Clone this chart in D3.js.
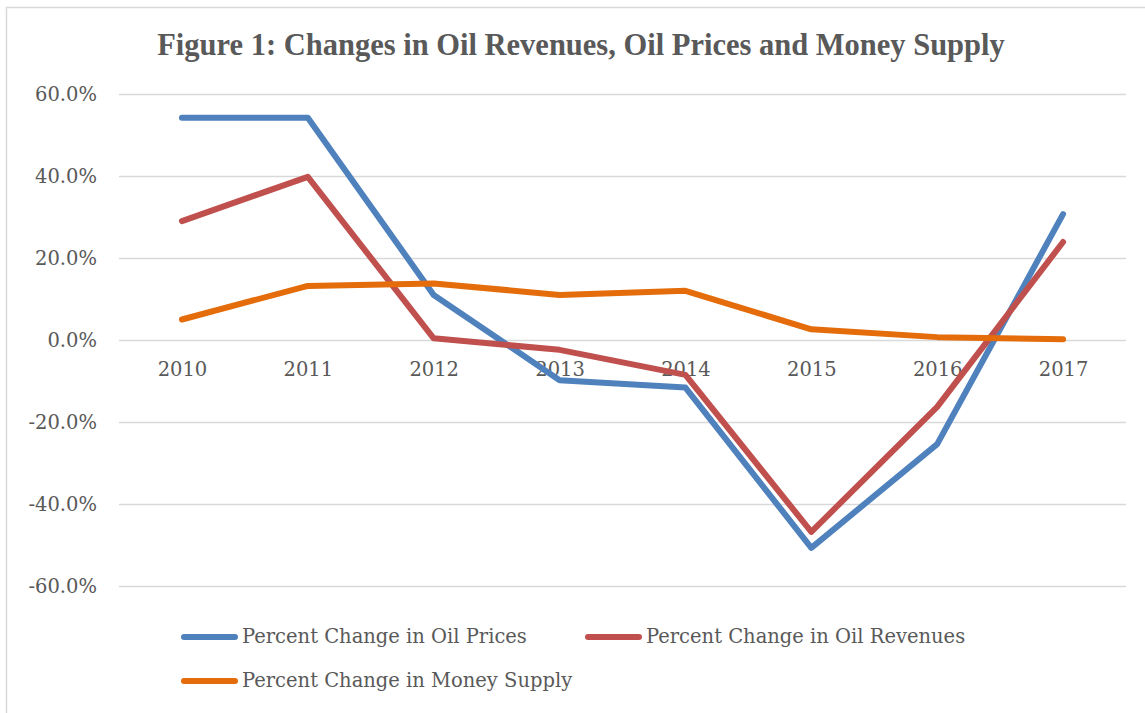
<!DOCTYPE html>
<html>
<head>
<meta charset="utf-8">
<script src="https://cdn.jsdelivr.net/npm/d3@7"></script>
<style>
	body { margin: 0; background: #fff; }
	text { font-family: "DejaVu Serif", "Liberation Serif", serif; fill: #595959; }
</style>
</head>
<body>
<div id="chart"></div>
<script>
// Chart data
const years = ["2010", "2011", "2012", "2013", "2014", "2015", "2016", "2017"];
const oilPrices = [54.2, 54.2, 11.0, -9.8, -11.6, -50.7, -25.4, 30.7];
const oilRevenues = [29.0, 39.8, 0.4, -2.4, -8.5, -46.8, -16.3, 23.9];
const moneySupply = [5.0, 13.2, 13.8, 11.0, 12.0, 2.6, 0.7, 0.2];
const yTicks = [60, 40, 20, 0, -20, -40, -60];
const seriesNames = [
	"Percent Change in Oil Prices",
	"Percent Change in Oil Revenues",
	"Percent Change in Money Supply",
];
const seriesColors = ["#4F81BD", "#C0504D", "#E46C0A"];

const width = 1145;
const height = 713;
const margin = { top: 94, left: 119, right: 19, bottom: 127 };
const labelSize = "19.5px";

const svg = d3
	.select("#chart")
	.append("svg")
	.attr("width", width)
	.attr("height", height);

// outer chart border
svg.append("rect")
	.attr("x", 6.5)
	.attr("y", 7.5)
	.attr("width", width + 10)
	.attr("height", height + 10)
	.attr("fill", "none")
	.attr("stroke", "#D9D9D9")
	.attr("stroke-width", 1.5);

// title, sized so it spans the same width as the reference
const title = svg.append("text")
	.text("Figure 1: Changes in Oil Revenues, Oil Prices and Money Supply")
	.attr("x", 581)
	.attr("y", 55)
	.attr("text-anchor", "middle")
	.style("font-family", "'Liberation Serif', serif")
	.style("font-weight", "bold")
	.style("font-size", "30px");
const tw = title.node().getComputedTextLength();
title.style("font-size", `${(30 * 848) / tw}px`);

const x = d3
	.scalePoint()
	.domain(years)
	.range([margin.left, width - margin.right])
	.padding(0.5);

const y = d3
	.scaleLinear()
	.domain([-60, 60])
	.range([height - margin.bottom, margin.top]);

// gridlines
svg.append("g")
	.selectAll("line")
	.data(yTicks)
	.join("line")
	.attr("x1", margin.left)
	.attr("x2", width - margin.right)
	.attr("y1", (d) => Math.round(y(d)) + 0.5)
	.attr("y2", (d) => Math.round(y(d)) + 0.5)
	.attr("stroke", "#D9D9D9")
	.attr("stroke-width", 1.5);

// y axis labels
const yAxis = svg.append("g")
	.attr("transform", `translate(${margin.left - 22},0)`)
	.call(d3.axisLeft(y).tickValues(yTicks).tickSize(0).tickFormat((d) => d.toFixed(1) + "%"));
yAxis.select(".domain").remove();
yAxis.selectAll("text")
	.attr("x", 0)
	.attr("dy", "0.35em")
	.style("font-size", labelSize)
	.attr("fill", null);
yAxis.attr("font-family", null).attr("font-size", null);

// x axis labels sit on the zero line
const xAxis = svg.append("g")
	.attr("transform", `translate(0,${y(0)})`)
	.call(d3.axisBottom(x).tickSize(0));
xAxis.select(".domain").remove();
xAxis.selectAll("text")
	.attr("y", 22)
	.attr("dy", "0.71em")
	.style("font-size", labelSize)
	.attr("fill", null);
xAxis.attr("font-family", null).attr("font-size", null);

// lines
const allSeries = [oilPrices, oilRevenues, moneySupply];
const line = d3
	.line()
	.x((d, i) => x(years[i]))
	.y((d) => y(d));

svg.append("g")
	.selectAll("path")
	.data(allSeries)
	.join("path")
	.attr("d", (d) => line(d))
	.attr("fill", "none")
	.attr("stroke", (d, i) => seriesColors[i])
	.attr("stroke-width", 6)
	.attr("stroke-linejoin", "round")
	.attr("stroke-linecap", "round");

// legend
const legendPos = [
	[182, 637],
	[586, 637],
	[182, 681],
];
const legend = svg.append("g")
	.selectAll("g")
	.data(seriesNames)
	.join("g")
	.attr("transform", (d, i) => `translate(${legendPos[i][0]},${legendPos[i][1]})`);

legend.append("line")
	.attr("x1", 2)
	.attr("x2", 53)
	.attr("stroke", (d, i) => seriesColors[i])
	.attr("stroke-width", 6)
	.attr("stroke-linecap", "round");

legend.append("text")
	.text((d) => d)
	.attr("x", 60)
	.attr("dy", "0.33em")
	.style("font-size", labelSize);
</script>
</body>
</html>
